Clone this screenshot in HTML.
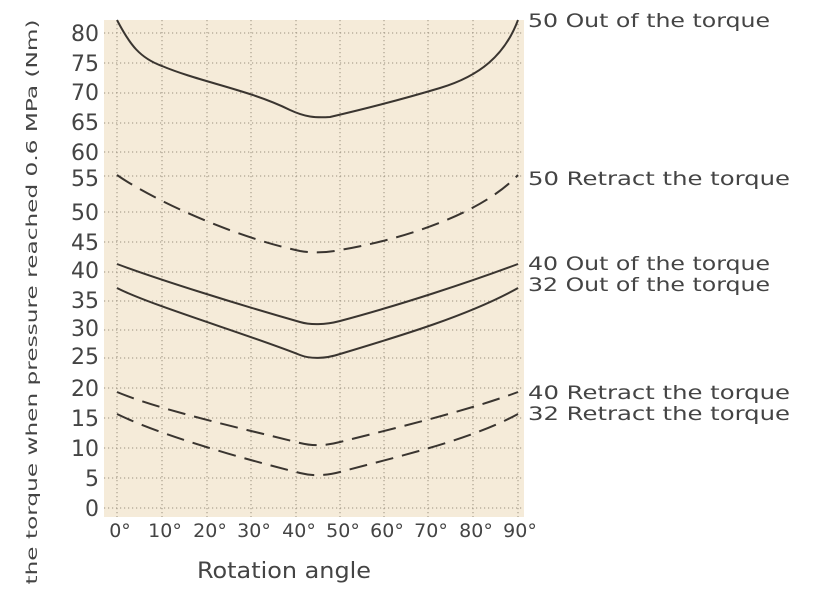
<!DOCTYPE html>
<html><head><meta charset="utf-8"><style>
html,body{margin:0;padding:0;background:#fff;}
svg{display:block;font-family:"DejaVu Sans","Liberation Sans",sans-serif;}
</style></head><body>
<svg width="814" height="592" viewBox="0 0 814 592" xmlns="http://www.w3.org/2000/svg">
<rect x="104" y="20" width="420" height="497" fill="#f5ebd9"/>
<g stroke="#9a9080" stroke-width="1" stroke-dasharray="1.2,2.8" fill="none">
<line x1="117" y1="20" x2="117" y2="517"/><line x1="162" y1="20" x2="162" y2="517"/>
<line x1="207" y1="20" x2="207" y2="517"/><line x1="251" y1="20" x2="251" y2="517"/>
<line x1="296" y1="20" x2="296" y2="517"/><line x1="340" y1="20" x2="340" y2="517"/>
<line x1="384" y1="20" x2="384" y2="517"/><line x1="428" y1="20" x2="428" y2="517"/>
<line x1="473" y1="20" x2="473" y2="517"/><line x1="518" y1="20" x2="518" y2="517"/>
<line x1="104" y1="33" x2="524" y2="33"/><line x1="104" y1="63" x2="524" y2="63"/>
<line x1="104" y1="93" x2="524" y2="93"/><line x1="104" y1="123" x2="524" y2="123"/>
<line x1="104" y1="152" x2="524" y2="152"/><line x1="104" y1="176" x2="524" y2="176"/>
<line x1="104" y1="212" x2="524" y2="212"/><line x1="104" y1="242" x2="524" y2="242"/>
<line x1="104" y1="272" x2="524" y2="272"/><line x1="104" y1="301" x2="524" y2="301"/>
<line x1="104" y1="330" x2="524" y2="330"/><line x1="104" y1="358" x2="524" y2="358"/>
<line x1="104" y1="388" x2="524" y2="388"/><line x1="104" y1="418" x2="524" y2="418"/>
<line x1="104" y1="448" x2="524" y2="448"/><line x1="104" y1="478" x2="524" y2="478"/>
<line x1="104" y1="508" x2="524" y2="508"/>
</g>
<g fill="none" stroke="#3a3530" stroke-width="2">
<path d="M117,20 C130,45 140,58 162,66 C200,82 250,90 290,110 C305,117 315,118 330,117 C360,110 400,100 440,88 C480,76 505,55 518,20"/>
<path d="M117,288 C150,305 250,335 300,355 C310,359 325,359 340,354 C400,336 470,315 518,288"/>
<path d="M117,264 C160,280 240,305 300,322 C310,325 325,325 340,321 C400,305 470,282 518,264"/>
</g>
<g fill="none" stroke="#3a3530" stroke-width="2" stroke-dasharray="18,9">
<path d="M117,175 C150,198 230,236 300,251 C312,253 325,253 340,250 C400,240 480,215 518,175"/>
<path d="M117,392 C160,410 240,428 300,443 C312,446 325,446 340,442 C400,427 470,410 518,392"/>
<path d="M117,414 C160,435 240,458 300,473 C312,476 325,476 340,472 C400,456 470,440 518,414"/>
</g>
<g fill="#444" font-size="22" text-anchor="end">
<text x="99" y="41">80</text><text x="99" y="71">75</text><text x="99" y="100">70</text>
<text x="99" y="130">65</text><text x="99" y="160">60</text><text x="99" y="186">55</text>
<text x="99" y="220">50</text><text x="99" y="250">45</text><text x="99" y="278">40</text>
<text x="99" y="308">35</text><text x="99" y="336">30</text><text x="99" y="364">25</text>
<text x="99" y="396">20</text><text x="99" y="426">15</text><text x="99" y="456">10</text>
<text x="99" y="486">5</text><text x="99" y="516">0</text>
</g>
<g fill="#444" font-size="19" text-anchor="middle">
<text x="120" y="537">0°</text><text x="165" y="537">10°</text><text x="210" y="537">20°</text>
<text x="254" y="537">30°</text><text x="299" y="537">40°</text><text x="343" y="537">50°</text>
<text x="387" y="537">60°</text><text x="431" y="537">70°</text><text x="476" y="537">80°</text>
<text x="520" y="537">90°</text>
</g>
<text x="197" y="578" font-size="22" fill="#444" textLength="174" lengthAdjust="spacingAndGlyphs">Rotation angle</text>
<text transform="translate(37,302) rotate(-90)" font-size="15" fill="#444" text-anchor="middle" textLength="565" lengthAdjust="spacingAndGlyphs">the torque when pressure reached 0.6 MPa (Nm)</text>
<g fill="#444" font-size="19">
<text x="528" y="27" textLength="242" lengthAdjust="spacingAndGlyphs">50 Out of the torque</text>
<text x="528" y="185" textLength="262" lengthAdjust="spacingAndGlyphs">50 Retract the torque</text>
<text x="528" y="270" textLength="242" lengthAdjust="spacingAndGlyphs">40 Out of the torque</text>
<text x="528" y="291" textLength="242" lengthAdjust="spacingAndGlyphs">32 Out of the torque</text>
<text x="528" y="399" textLength="262" lengthAdjust="spacingAndGlyphs">40 Retract the torque</text>
<text x="528" y="420" textLength="262" lengthAdjust="spacingAndGlyphs">32 Retract the torque</text>
</g>
</svg>
</body></html>
